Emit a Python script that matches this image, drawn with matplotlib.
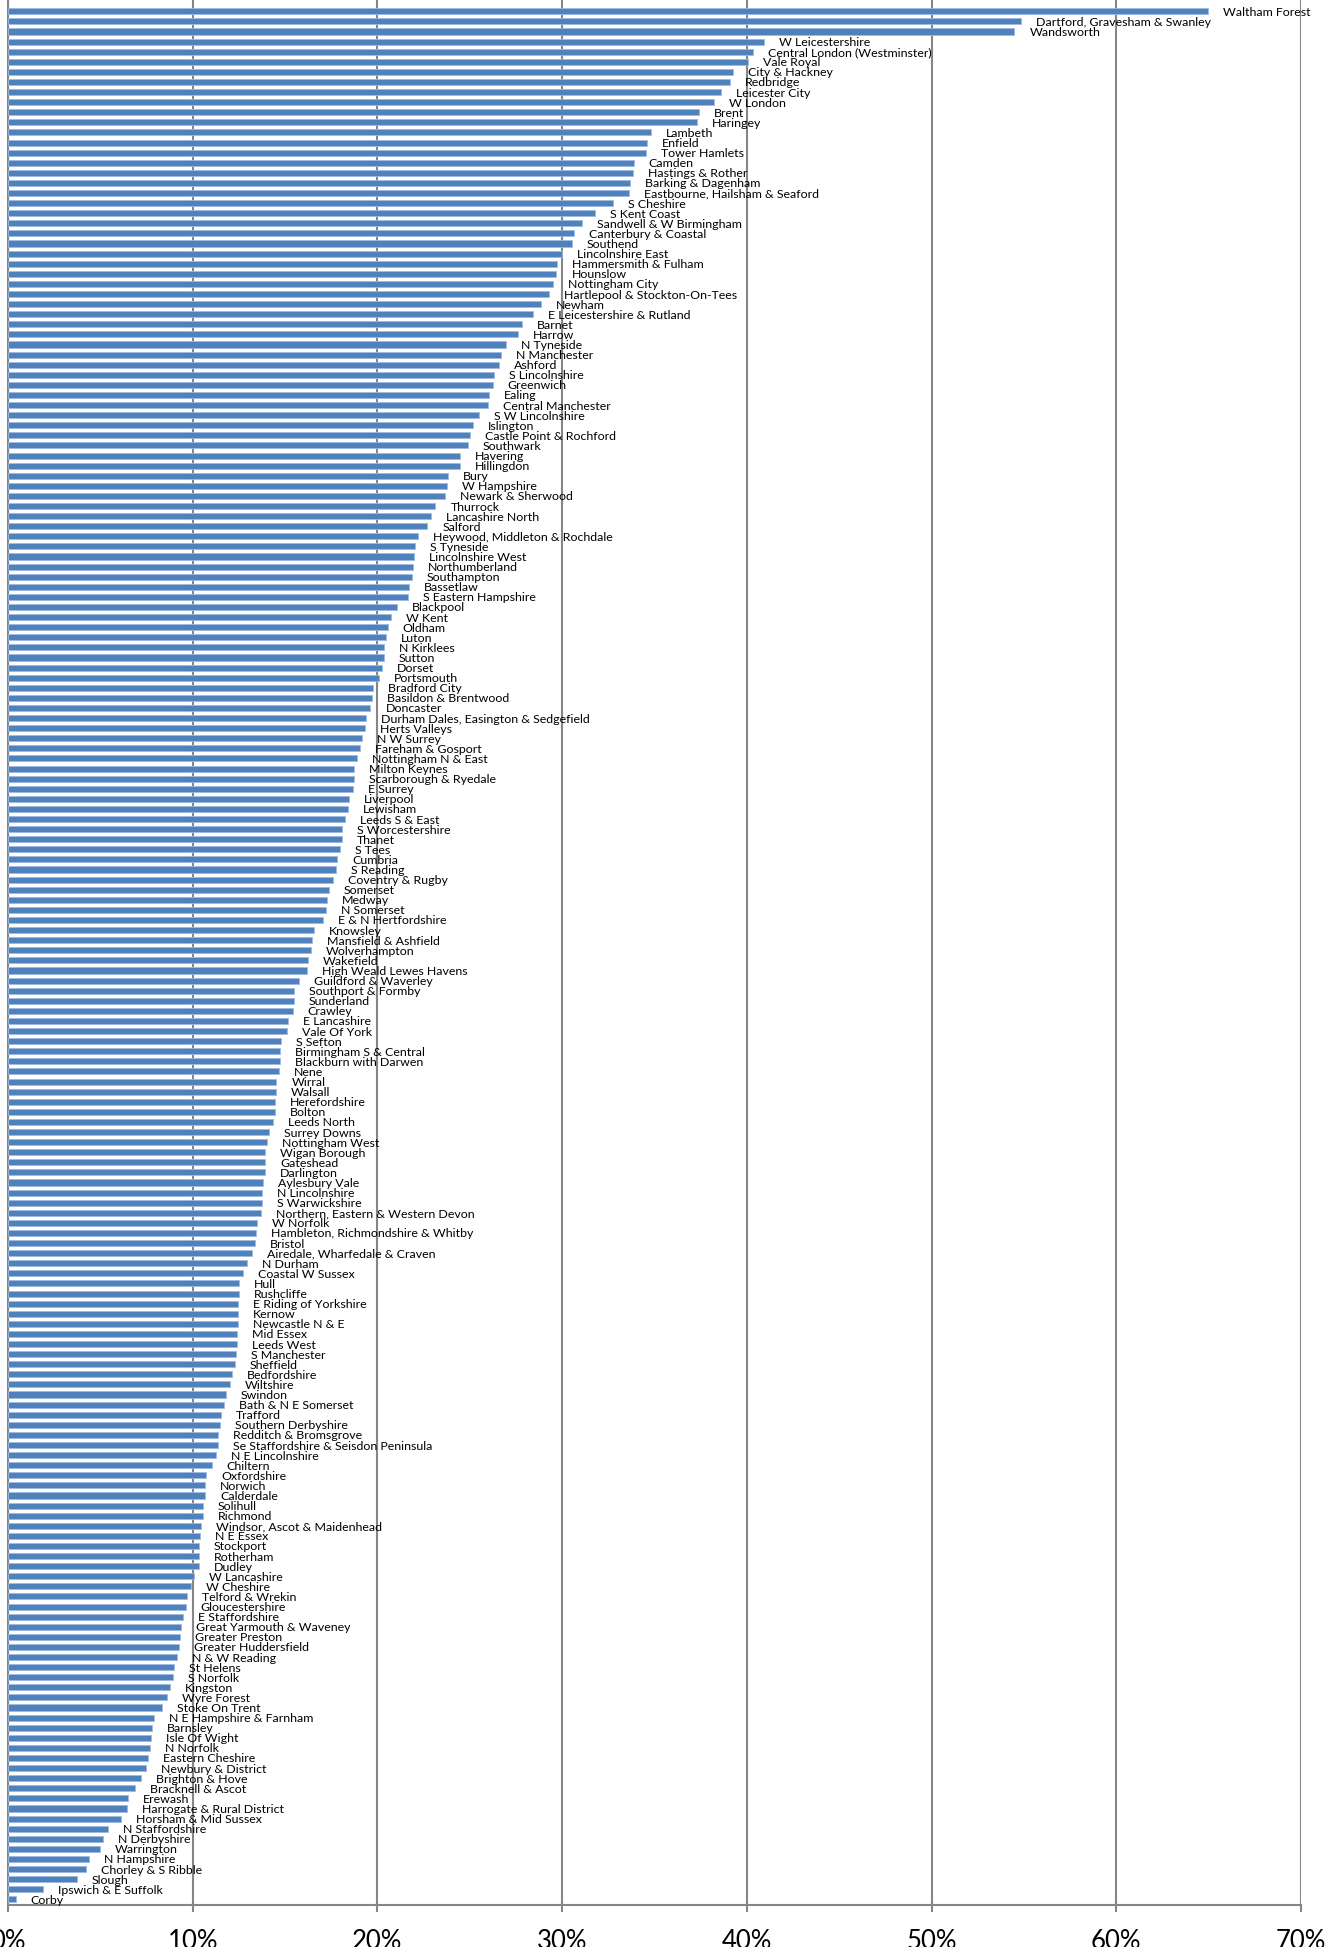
import matplotlib
matplotlib.use("Agg")
import matplotlib.pyplot as plt

plt.rcParams['font.family'] = ['Lato', 'DejaVu Sans']

categories = [
    "Waltham Forest", "Dartford, Gravesham & Swanley", "Wandsworth", "W Leicestershire",
    "Central London (Westminster)", "Vale Royal", "City & Hackney", "Redbridge",
    "Leicester City", "W London", "Brent", "Haringey", "Lambeth", "Enfield",
    "Tower Hamlets", "Camden", "Hastings & Rother", "Barking & Dagenham",
    "Eastbourne, Hailsham & Seaford", "S Cheshire", "S Kent Coast", "Sandwell & W Birmingham",
    "Canterbury & Coastal", "Southend", "Lincolnshire East", "Hammersmith & Fulham",
    "Hounslow", "Nottingham City", "Hartlepool & Stockton-On-Tees", "Newham",
    "E Leicestershire & Rutland", "Barnet", "Harrow", "N Tyneside", "N Manchester",
    "Ashford", "S Lincolnshire", "Greenwich", "Ealing", "Central Manchester",
    "S W Lincolnshire", "Islington", "Castle Point & Rochford", "Southwark", "Havering",
    "Hillingdon", "Bury", "W Hampshire", "Newark & Sherwood", "Thurrock",
    "Lancashire North", "Salford", "Heywood, Middleton & Rochdale", "S Tyneside",
    "Lincolnshire West", "Northumberland", "Southampton", "Bassetlaw",
    "S Eastern Hampshire", "Blackpool", "W Kent", "Oldham", "Luton", "N Kirklees",
    "Sutton", "Dorset", "Portsmouth", "Bradford City", "Basildon & Brentwood",
    "Doncaster", "Durham Dales, Easington & Sedgefield", "Herts Valleys", "N W Surrey",
    "Fareham & Gosport", "Nottingham N & East", "Milton Keynes", "Scarborough & Ryedale",
    "E Surrey", "Liverpool", "Lewisham", "Leeds S & East", "S Worcestershire", "Thanet",
    "S Tees", "Cumbria", "S Reading", "Coventry & Rugby", "Somerset", "Medway",
    "N Somerset", "E & N Hertfordshire", "Knowsley", "Mansfield & Ashfield",
    "Wolverhampton", "Wakefield", "High Weald Lewes Havens", "Guildford & Waverley",
    "Southport & Formby", "Sunderland", "Crawley", "E Lancashire", "Vale Of York",
    "S Sefton", "Birmingham S & Central", "Blackburn with Darwen", "Nene", "Wirral",
    "Walsall", "Herefordshire", "Bolton", "Leeds North", "Surrey Downs",
    "Nottingham West", "Wigan Borough", "Gateshead", "Darlington", "Aylesbury Vale",
    "N Lincolnshire", "S Warwickshire", "Northern, Eastern & Western Devon", "W Norfolk",
    "Hambleton, Richmondshire & Whitby", "Bristol", "Airedale, Wharfedale & Craven",
    "N Durham", "Coastal W Sussex", "Hull", "Rushcliffe", "E Riding of Yorkshire",
    "Kernow", "Newcastle N & E", "Mid Essex", "Leeds West", "S Manchester", "Sheffield",
    "Bedfordshire", "Wiltshire", "Swindon", "Bath & N E Somerset", "Trafford",
    "Southern Derbyshire", "Redditch & Bromsgrove", "Se Staffordshire & Seisdon Peninsula",
    "N E Lincolnshire", "Chiltern", "Oxfordshire", "Norwich", "Calderdale", "Solihull",
    "Richmond", "Windsor, Ascot & Maidenhead", "N E Essex", "Stockport", "Rotherham",
    "Dudley", "W Lancashire", "W Cheshire", "Telford & Wrekin", "Gloucestershire",
    "E Staffordshire", "Great Yarmouth & Waveney", "Greater Preston",
    "Greater Huddersfield", "N & W Reading", "St Helens", "S Norfolk", "Kingston",
    "Wyre Forest", "Stoke On Trent", "N E Hampshire & Farnham", "Barnsley",
    "Isle Of Wight", "N Norfolk", "Eastern Cheshire", "Newbury & District",
    "Brighton & Hove", "Bracknell & Ascot", "Erewash", "Harrogate & Rural District",
    "Horsham & Mid Sussex", "N Staffordshire", "N Derbyshire", "Warrington",
    "N Hampshire", "Chorley & S Ribble", "Slough", "Ipswich & E Suffolk", "Corby",
]

values_pct = [
    64.95, 54.83, 54.48, 40.94, 40.34, 40.08, 39.27, 39.07, 38.62, 38.21, 37.41, 37.28,
    34.83, 34.57, 34.53, 33.87, 33.84, 33.70, 33.62, 32.73, 31.80, 31.08, 30.64, 30.54,
    29.98, 29.71, 29.69, 29.50, 29.27, 28.84, 28.44, 27.83, 27.59, 26.95, 26.67, 26.60,
    26.33, 26.24, 26.04, 25.99, 25.52, 25.18, 25.03, 24.89, 24.49, 24.49, 23.82, 23.77,
    23.68, 23.14, 22.89, 22.70, 22.18, 22.02, 21.98, 21.91, 21.87, 21.71, 21.67, 21.04,
    20.74, 20.56, 20.45, 20.36, 20.36, 20.23, 20.07, 19.76, 19.71, 19.62, 19.37, 19.33,
    19.17, 19.06, 18.91, 18.75, 18.73, 18.70, 18.45, 18.39, 18.26, 18.10, 18.10, 17.96,
    17.82, 17.74, 17.58, 17.36, 17.29, 17.22, 17.05, 16.57, 16.46, 16.39, 16.24, 16.17,
    15.77, 15.48, 15.47, 15.41, 15.15, 15.10, 14.76, 14.74, 14.73, 14.69, 14.53, 14.51,
    14.47, 14.44, 14.36, 14.11, 14.04, 13.93, 13.93, 13.90, 13.81, 13.77, 13.73, 13.70,
    13.50, 13.41, 13.36, 13.19, 12.92, 12.71, 12.52, 12.51, 12.47, 12.45, 12.44, 12.40,
    12.40, 12.36, 12.27, 12.11, 12.02, 11.80, 11.69, 11.53, 11.49, 11.39, 11.37, 11.26,
    11.03, 10.72, 10.68, 10.68, 10.56, 10.54, 10.47, 10.38, 10.34, 10.34, 10.32, 10.09,
    9.89, 9.67, 9.62, 9.46, 9.37, 9.33, 9.26, 9.13, 9.00, 8.92, 8.77, 8.59, 8.35, 7.90,
    7.78, 7.73, 7.67, 7.60, 7.49, 7.18, 6.88, 6.50, 6.44, 6.10, 5.43, 5.13, 4.98, 4.40,
    4.22, 3.72, 1.89, 0.42,
]

xtick_values = [0, 10, 20, 30, 40, 50, 60, 70]
xtick_labels = ["0%", "10%", "20%", "30%", "40%", "50%", "60%", "70%"]

W, H, DPI = 1330, 1947, 100
fig = plt.figure(figsize=(W / DPI, H / DPI), dpi=DPI)
left_px, right_px, top_px, bottom_px = 8, 1301, 0, 1905
ax = fig.add_axes([left_px / W, (H - bottom_px) / H,
                   (right_px - left_px) / W, (bottom_px - top_px) / H])

grid_col = "#868686"
bar_col = "#4F81BD"
n = len(categories)
ypos = list(range(n))

ax.barh(ypos, values_pct, height=0.6, color=bar_col,
        edgecolor="#9fbbe0", linewidth=0.6, zorder=3)

for y, v, name in zip(ypos, values_pct, categories):
    ax.annotate(name, xy=(v, y), xytext=(15, -1), textcoords="offset pixels",
                ha="left", va="center", fontsize=8.95, color="black",
                clip_on=False, annotation_clip=False, zorder=4)

ax.set_xlim(0, 70)
ax.set_ylim(187.56, -1.12)
ax.set_xticks(xtick_values)
ax.set_xticklabels(xtick_labels, fontsize=18.5)
ax.set_yticks([])
ax.xaxis.grid(True, color=grid_col, linewidth=1.5, zorder=0)
ax.set_axisbelow(True)
ax.tick_params(axis="x", direction="out", length=5, width=1.5, color=grid_col, pad=12)

for side in ["top", "right"]:
    ax.spines[side].set_visible(False)
for side in ["left", "bottom"]:
    ax.spines[side].set_color(grid_col)
    ax.spines[side].set_linewidth(1.5)

fig.savefig("out.png", dpi=DPI)
